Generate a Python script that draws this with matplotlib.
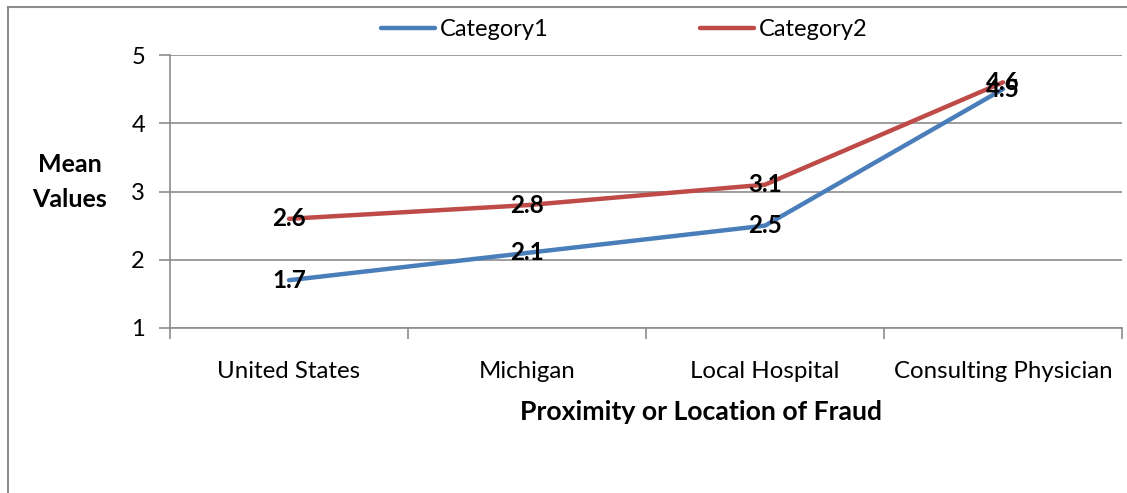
import matplotlib.pyplot as plt
from matplotlib.lines import Line2D
import numpy as np

# chart data
categories = ["United States", "Michigan", "Local Hospital", "Consulting Physician"]
category1 = [1.7, 2.1, 2.5, 4.5]
category2 = [2.6, 2.8, 3.1, 4.6]
series_names = ["Category1", "Category2"]
y_ticks = [1, 2, 3, 4, 5]

W, H = 1127, 493
plt.rcParams['font.family'] = ['Lato', 'DejaVu Sans']

fig = plt.figure(figsize=(W / 100, H / 100), dpi=100)
# plot area in pixels: x 170..1122, y 55..328
ax = fig.add_axes([170 / W, 1 - 328 / H, (1122 - 170) / W, (328 - 55) / H])

x = np.arange(len(categories))
blue = '#4A7EBB'
red = '#BE4B48'
ax.plot(x, category1, color=blue, lw=3.2, solid_capstyle='round', label=series_names[0], zorder=3)
ax.plot(x, category2, color=red, lw=3.2, solid_capstyle='round', label=series_names[1], zorder=3)

for xi, v in zip(x, category1):
    ax.text(xi, v, f"{v}", ha='center', va='center', fontsize=17.5, fontweight='bold', zorder=4)
for xi, v in zip(x, category2):
    ax.text(xi, v, f"{v}", ha='center', va='center', fontsize=17.5, fontweight='bold', zorder=4)

ax.set_xlim(-0.5, len(categories) - 0.5)
ax.set_ylim(1, 5)
ax.set_yticks(y_ticks)
ax.set_yticklabels([str(t) for t in y_ticks], fontsize=17)
ax.yaxis.grid(True, color='#8C8C8C', lw=1.2)
ax.set_axisbelow(True)

# category labels between boundary ticks
ax.set_xticks(np.arange(len(categories) + 1) - 0.5)
ax.set_xticklabels([])
ax.set_xticks(x, minor=True)
ax.set_xticklabels(categories, minor=True, fontsize=17.3)
ax.tick_params(axis='x', which='minor', length=0, pad=24)
ax.tick_params(axis='x', which='major', length=8, color='#8C8C8C', width=1.2)
ax.tick_params(axis='y', length=8, color='#8C8C8C', width=1.2, pad=10)

for s in ['top', 'right']:
    ax.spines[s].set_visible(False)
for s in ['left', 'bottom']:
    ax.spines[s].set_color('#8C8C8C')
    ax.spines[s].set_linewidth(1.2)

fig.text(70 / W, 1 - 182 / H, "Mean\nValues", ha='center', va='center',
         fontsize=18, fontweight='bold', linespacing=1.6)
fig.text(701 / W, 1 - 412 / H, "Proximity or Location of Fraud", ha='center', va='center',
         fontsize=19.2, fontweight='bold')

leg = fig.legend(loc='center', bbox_to_anchor=(624 / W, 1 - 30 / H), ncol=2, frameon=False,
                 fontsize=17, handlelength=2.3, handletextpad=0.2, columnspacing=6.4)

# outer chart frame (partially cropped)
frame = '#8C8C8C'
fig.add_artist(Line2D([8 / W, 8 / W], [1 - 7 / H, 0], transform=fig.transFigure, color=frame, lw=1.5))
fig.add_artist(Line2D([8 / W, 1], [1 - 7 / H, 1 - 7 / H], transform=fig.transFigure, color=frame, lw=1.5))

fig.savefig("out.png", dpi=100)
